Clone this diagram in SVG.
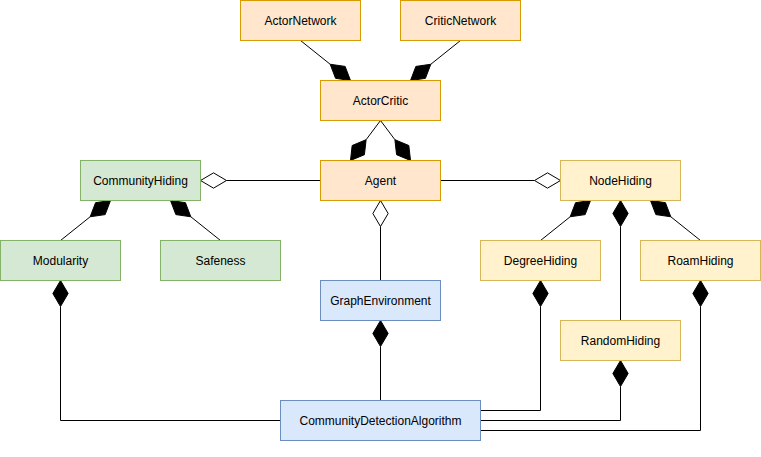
<svg xmlns="http://www.w3.org/2000/svg" width="761" height="457" viewBox="0 0 761 457">
<style>
.orange{fill:#ffe6cc;stroke:#d79b00;stroke-width:1}
.green{fill:#d5e8d4;stroke:#82b366;stroke-width:1}
.yellow{fill:#fff2cc;stroke:#d6b656;stroke-width:1}
.blue{fill:#dae8fc;stroke:#6c8ebf;stroke-width:1}
text{font-family:"Liberation Sans",Arial,Helvetica,sans-serif;font-size:12px;fill:#000;text-anchor:middle}
.ln{fill:none;stroke:#000;stroke-width:1}
.fd{fill:#000;stroke:#000;stroke-width:1}
.hd{fill:#fff;stroke:#000;stroke-width:1}
</style>
<rect width="761" height="457" fill="#fff"/>
<g transform="translate(0.5,0.5)">
<g id="connectors">
<path class="ln" d="M300 40L329.69 63.75"/>
<polygon class="fd" points="350,80 335.07,77.85 329.69,63.75 344.63,65.91"/>
<path class="ln" d="M460 40L430.31 63.75"/>
<polygon class="fd" points="410,80 424.93,77.85 430.31,63.75 415.37,65.91"/>
<path class="ln" d="M380 120L365.6 139.2"/>
<polygon class="fd" points="350,160 363.92,154.19 365.6,139.2 351.68,145.01"/>
<path class="ln" d="M380 120L394.4 139.2"/>
<polygon class="fd" points="410,160 396.08,154.19 394.4,139.2 408.32,145.01"/>
<path class="ln" d="M320 180L226 180"/>
<polygon class="hd" points="200,180 213,172.35 226,180 213,187.65"/>
<path class="ln" d="M440 180L534 180"/>
<polygon class="hd" points="560,180 547,172.35 534,180 547,187.65"/>
<path class="ln" d="M380 280L380 226"/>
<polygon class="hd" points="380,200 387.65,213 380,226 372.35,213"/>
<path class="ln" d="M60 240L89.69 216.25"/>
<polygon class="fd" points="110,200 104.63,214.1 89.69,216.25 95.07,202.16"/>
<path class="ln" d="M220 240L190.31 216.25"/>
<polygon class="fd" points="170,200 175.37,214.1 190.31,216.25 184.93,202.16"/>
<path class="ln" d="M540 240L569.69 216.25"/>
<polygon class="fd" points="590,200 584.63,214.1 569.69,216.25 575.07,202.16"/>
<path class="ln" d="M700 240L670.31 216.25"/>
<polygon class="fd" points="650,200 655.37,214.1 670.31,216.25 664.93,202.16"/>
<path class="ln" d="M620 320L620 226"/>
<polygon class="fd" points="620,200 627.65,213 620,226 612.35,213"/>
<path class="ln" d="M280 420L60 420L60 306"/>
<polygon class="fd" points="60,280 67.65,293 60,306 52.35,293"/>
<path class="ln" d="M380 400L380 346"/>
<polygon class="fd" points="380,320 387.65,333 380,346 372.35,333"/>
<path class="ln" d="M480 410L540 410L540 306"/>
<polygon class="fd" points="540,280 547.65,293 540,306 532.35,293"/>
<path class="ln" d="M480 420L620 420L620 386"/>
<polygon class="fd" points="620,360 627.65,373 620,386 612.35,373"/>
<path class="ln" d="M480 430L700 430L700 306"/>
<polygon class="fd" points="700,280 707.65,293 700,306 692.35,293"/>
</g>
<g id="ActorNetwork"><rect class="orange" x="240" y="0" width="120" height="40"/><text x="300" y="24">ActorNetwork</text></g>
<g id="CriticNetwork"><rect class="orange" x="400" y="0" width="120" height="40"/><text x="460" y="24">CriticNetwork</text></g>
<g id="ActorCritic"><rect class="orange" x="320" y="80" width="120" height="40"/><text x="380" y="104">ActorCritic</text></g>
<g id="Agent"><rect class="orange" x="320" y="160" width="120" height="40"/><text x="380" y="184">Agent</text></g>
<g id="CommunityHiding"><rect class="green" x="80" y="160" width="120" height="40"/><text x="140" y="184">CommunityHiding</text></g>
<g id="Modularity"><rect class="green" x="0" y="240" width="120" height="40"/><text x="60" y="264">Modularity</text></g>
<g id="Safeness"><rect class="green" x="160" y="240" width="120" height="40"/><text x="220" y="264">Safeness</text></g>
<g id="NodeHiding"><rect class="yellow" x="560" y="160" width="120" height="40"/><text x="620" y="184">NodeHiding</text></g>
<g id="DegreeHiding"><rect class="yellow" x="480" y="240" width="120" height="40"/><text x="540" y="264">DegreeHiding</text></g>
<g id="RoamHiding"><rect class="yellow" x="640" y="240" width="120" height="40"/><text x="700" y="264">RoamHiding</text></g>
<g id="RandomHiding"><rect class="yellow" x="560" y="320" width="120" height="40"/><text x="620" y="344">RandomHiding</text></g>
<g id="GraphEnvironment"><rect class="blue" x="320" y="280" width="120" height="40"/><text x="380" y="304">GraphEnvironment</text></g>
<g id="CommunityDetectionAlgorithm"><rect class="blue" x="280" y="400" width="200" height="40"/><text x="380" y="424">CommunityDetectionAlgorithm</text></g>
</g>
</svg>
